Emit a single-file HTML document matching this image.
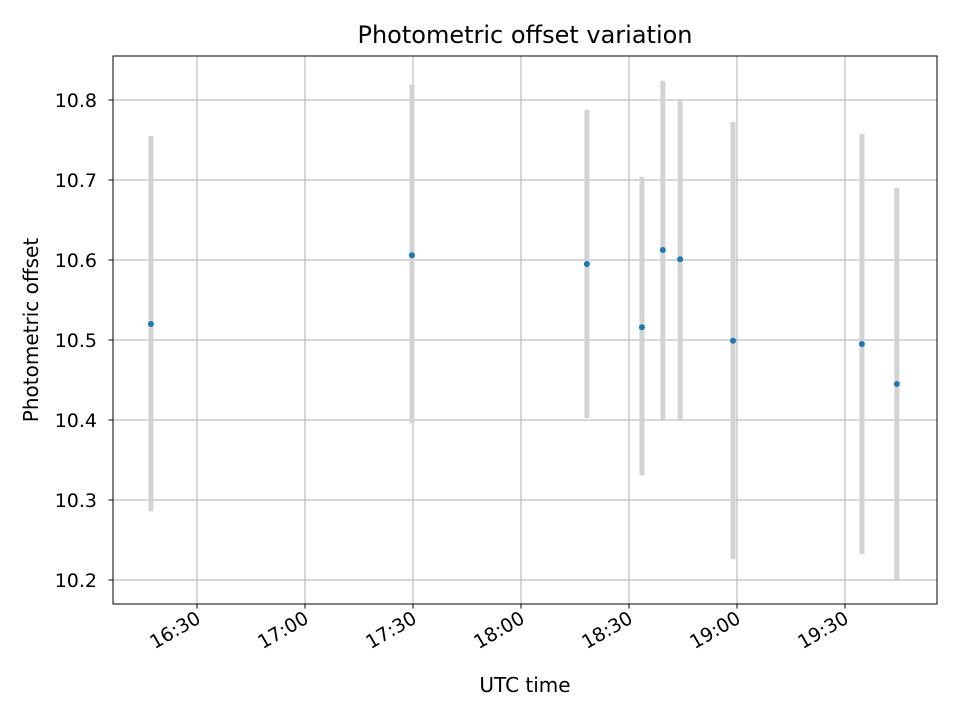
<!DOCTYPE html>
<html><head><meta charset="utf-8"><style>
body{margin:0;background:#fff;font-family:"DejaVu Sans","Liberation Sans",sans-serif}
</style></head><body>
<svg id="chart" width="960" height="720" xmlns="http://www.w3.org/2000/svg" font-family="DejaVu Sans, Liberation Sans, sans-serif">
<rect width="960" height="720" fill="#fff"/>
<g id="grid"></g>
<g id="bars"></g>
<g id="pts"></g>
<rect x="113" y="56" width="824" height="548" fill="none" stroke="#000" stroke-width="1"/>
<g id="axes"></g>
<text x="525" y="43" text-anchor="middle" style="font-size:24px">Photometric offset variation</text>
<text x="525" y="692" text-anchor="middle" style="font-size:20px">UTC time</text>
<text transform="translate(38,330) rotate(-90)" text-anchor="middle" style="font-size:20px">Photometric offset</text>
</svg>
<script>
const times=["16:17.2","17:29.7","18:18.3","18:33.6","18:39.4","18:44.2","18:58.9","19:34.7","19:44.4"];
const values=[10.52,10.606,10.595,10.516,10.6125,10.601,10.499,10.495,10.445];
const lows=[10.286,10.396,10.4025,10.331,10.401,10.401,10.226,10.2325,10.201];
const highs=[10.755,10.819,10.7875,10.704,10.824,10.8,10.7725,10.7575,10.69];
const xTicks=["16:30","17:00","17:30","18:00","18:30","19:00","19:30"];
const yTicks=[10.2,10.3,10.4,10.5,10.6,10.7,10.8];
const NS="http://www.w3.org/2000/svg";
function mins(s){const p=s.split(":");return +p[0]*60+parseFloat(p[1]);}
const x0=mins("16:30"),px0=197,ppm=108/30;
function X(s){return px0+(mins(s)-x0)*ppm;}
function Y(v){return 580-(v-10.2)*800;}
function mk(tag,attrs,parent){const e=document.createElementNS(NS,tag);for(const k in attrs)e.setAttribute(k,attrs[k]);parent.appendChild(e);return e;}
const grid=document.getElementById('grid'),axes=document.getElementById('axes'),bars=document.getElementById('bars'),pts=document.getElementById('pts');
xTicks.forEach(t=>{const x=X(t);
 const g=mk('line',{x1:x,x2:x,y1:56,y2:604,stroke:'#b0b0b0','stroke-width':1},grid);
 
 mk('line',{x1:x,x2:x,y1:604,y2:608.5,stroke:'#000'},axes);
 const tx=mk('text',{x:0,y:0,style:'font-size:19px','text-anchor':'end',transform:`translate(${x+5},${622}) rotate(-30)`},axes);
 tx.textContent=t;});
yTicks.forEach(v=>{const y=Y(v);
 const g=mk('line',{x1:113,x2:937,y1:y,y2:y,stroke:'#b0b0b0','stroke-width':1},grid);
 
 mk('line',{x1:108.5,x2:113,y1:y,y2:y,stroke:'#000'},axes);
 const tx=mk('text',{x:97,y:y+7,style:'font-size:19px','text-anchor':'end'},axes);
 tx.textContent=v.toFixed(1);});
times.forEach((t,i)=>{const x=X(t);
 const b=mk('line',{x1:x,x2:x,y1:Y(lows[i]),y2:Y(highs[i]),stroke:'#d3d3d3','stroke-width':5},bars);
 
 const c=mk('circle',{cx:x,cy:Y(values[i]),r:3,fill:'#1f77b4'},pts);
 });
</script>
</body></html>
